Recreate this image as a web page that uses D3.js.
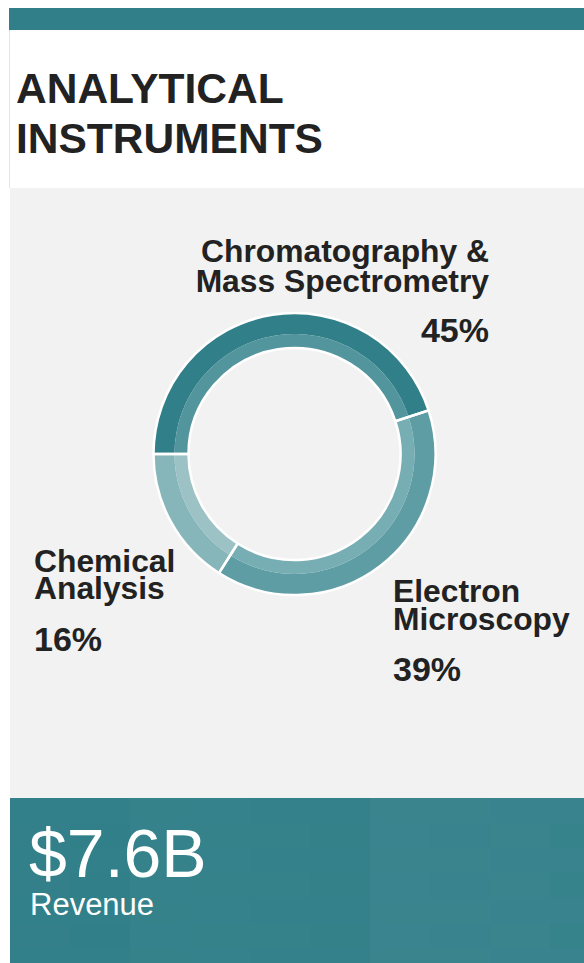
<!DOCTYPE html>
<html>
<head>
<meta charset="utf-8">
<script src="https://cdn.jsdelivr.net/npm/d3@7/dist/d3.min.js"></script>
<style>
  html, body { margin: 0; padding: 0; background: #ffffff; }
  svg { display: block; }
  text { font-family: "Liberation Sans", Arial, Helvetica, sans-serif; }
</style>
</head>
<body>
<script>
// ---- data ----
const titleLines = ["ANALYTICAL", "INSTRUMENTS"];
const categories = ["Chromatography & Mass Spectrometry", "Electron Microscopy", "Chemical Analysis"];
const labelLines = [["Chromatography &", "Mass Spectrometry"], ["Electron", "Microscopy"], ["Chemical", "Analysis"]];
const shares = [45, 39, 16];
const revenueValue = "$7.6B";
const revenueLabel = "Revenue";

// ---- styles ----
const W = 584, H = 963;
const teal = "#317f89";
const outerColors = ["#317f89", "#5f9da5", "#86b5ba"];
const innerColors = ["#52959d", "#77aeb3", "#9cc2c6"];

const svg = d3.select("body").append("svg").attr("width", W).attr("height", H);

// top bar
svg.append("rect").attr("x", 9).attr("y", 8).attr("width", W - 9).attr("height", 22).attr("fill", teal);
// title box
svg.append("rect").attr("x", 9).attr("y", 30).attr("width", W - 9).attr("height", 158).attr("fill", "#ffffff");
svg.append("line").attr("x1", 9.5).attr("x2", 9.5).attr("y1", 30).attr("y2", 188).attr("stroke", "#e4e4e4").attr("stroke-width", 1);
svg.append("text").attr("x", 16).attr("y", 103)
  .attr("font-size", 42.5).attr("font-weight", "bold").attr("fill", "#222")
  .selectAll("tspan").data(titleLines).join("tspan")
  .attr("x", 16).attr("dy", (d, i) => i === 0 ? 0 : 50).text(d => d);

// gray panel
svg.append("rect").attr("x", 10).attr("y", 188).attr("width", W - 10).attr("height", 610).attr("fill", "#f2f2f2");

// donut
const cx = 294.5, cy = 454;
const rOuter = 141, rMid = 120, rInner = 106;
const pie = d3.pie().sort(null).value(d => d).startAngle(-Math.PI / 2).endAngle(1.5 * Math.PI);
const arcsData = pie(shares);
const g = svg.append("g").attr("transform", `translate(${cx},${cy})`);
const arcOuter = d3.arc().innerRadius(rMid).outerRadius(rOuter);
const arcInner = d3.arc().innerRadius(rInner).outerRadius(rMid);
const arcFull = d3.arc().innerRadius(rInner).outerRadius(rOuter);
g.selectAll("path.o").data(arcsData).join("path").attr("class", "o")
  .attr("d", arcOuter).attr("fill", (d, i) => outerColors[i]);
g.selectAll("path.i").data(arcsData).join("path").attr("class", "i")
  .attr("d", arcInner).attr("fill", (d, i) => innerColors[i]);
g.selectAll("path.s").data(arcsData).join("path").attr("class", "s")
  .attr("d", arcFull).attr("fill", "none").attr("stroke", "#ffffff").attr("stroke-width", 2.5);

// labels (each category label is one text block with line tspans)
const labelPos = [
  { x: 489, anchor: "end", y: 262, dys: [0, 30], py: 342 },
  { x: 393, anchor: "start", y: 602, dys: [0, 28], py: 681 },
  { x: 34, anchor: "start", y: 572, dys: [0, 27], py: 651 }
];
categories.forEach((c, i) => {
  const p = labelPos[i];
  const t = svg.append("text").attr("x", p.x).attr("y", p.y).attr("text-anchor", p.anchor)
    .attr("font-size", 31.8).attr("font-weight", "bold").attr("fill", "#222");
  t.selectAll("tspan").data(labelLines[i]).join("tspan")
    .attr("x", p.x).attr("dy", (d, j) => p.dys[j]).text(d => d);
  svg.append("text").attr("x", p.x).attr("y", p.py).attr("text-anchor", p.anchor)
    .attr("font-size", 34).attr("font-weight", "bold").attr("fill", "#222").text(shares[i] + "%");
});

// bottom panel
const by = 798, bh = H - by;
svg.append("rect").attr("x", 10).attr("y", by).attr("width", W - 10).attr("height", bh).attr("fill", teal);
// subtle tiled texture (decorative)
const cellW = 60, cellH = 25;
const cols = d3.range(10, W, cellW), rows = d3.range(by, H, cellH);
const cells = [];
cols.forEach((x, i) => rows.forEach((y, j) => cells.push({ x, y, i, j })));
svg.append("g").selectAll("rect").data(cells).join("rect")
  .attr("x", d => d.x).attr("y", d => d.y).attr("width", cellW).attr("height", cellH)
  .attr("fill", "#ffffff")
  .attr("opacity", d => 0.006 * ((d.i * 3 + 1) % 4) + 0.004 * ((d.j + d.i) % 2) + 0.0035 * d.i);

const rev = svg.append("text").attr("x", 29).attr("y", 877).attr("fill", "#ffffff");
rev.append("tspan").attr("x", 29).attr("font-size", 68).text(revenueValue);
rev.append("tspan").attr("x", 30).attr("dy", 38).attr("font-size", 31).text(revenueLabel);
</script>
</body>
</html>
